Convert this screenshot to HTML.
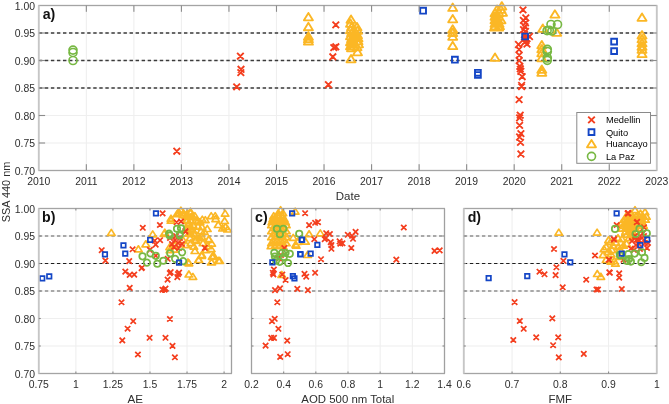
<!DOCTYPE html>
<html><head><meta charset="utf-8"><style>
html,body{margin:0;padding:0;background:#fff;}
body{width:669px;height:404px;overflow:hidden;font-family:"Liberation Sans",sans-serif;}
svg{display:block;filter:blur(0.35px);}
</style></head><body>
<svg width="669" height="404" viewBox="0 0 669 404">
<rect width="669" height="404" fill="#fff"/>
<rect x="85.79" y="5.50" width="1.10" height="165.00" fill="#efefef"/>
<rect x="133.33" y="5.50" width="1.10" height="165.00" fill="#efefef"/>
<rect x="180.87" y="5.50" width="1.10" height="165.00" fill="#efefef"/>
<rect x="228.40" y="5.50" width="1.10" height="165.00" fill="#efefef"/>
<rect x="275.94" y="5.50" width="1.10" height="165.00" fill="#efefef"/>
<rect x="323.48" y="5.50" width="1.10" height="165.00" fill="#efefef"/>
<rect x="371.02" y="5.50" width="1.10" height="165.00" fill="#efefef"/>
<rect x="418.56" y="5.50" width="1.10" height="165.00" fill="#efefef"/>
<rect x="466.10" y="5.50" width="1.10" height="165.00" fill="#efefef"/>
<rect x="513.63" y="5.50" width="1.10" height="165.00" fill="#efefef"/>
<rect x="561.17" y="5.50" width="1.10" height="165.00" fill="#efefef"/>
<rect x="608.71" y="5.50" width="1.10" height="165.00" fill="#efefef"/>
<rect x="38.80" y="142.45" width="618.00" height="1.10" fill="#efefef"/>
<rect x="38.80" y="114.95" width="618.00" height="1.10" fill="#efefef"/>
<rect x="38.80" y="87.45" width="618.00" height="1.10" fill="#efefef"/>
<rect x="38.80" y="59.95" width="618.00" height="1.10" fill="#efefef"/>
<rect x="38.80" y="32.45" width="618.00" height="1.10" fill="#efefef"/>
<rect x="75.31" y="208.50" width="1.10" height="165.00" fill="#efefef"/>
<rect x="112.37" y="208.50" width="1.10" height="165.00" fill="#efefef"/>
<rect x="149.42" y="208.50" width="1.10" height="165.00" fill="#efefef"/>
<rect x="186.48" y="208.50" width="1.10" height="165.00" fill="#efefef"/>
<rect x="223.54" y="208.50" width="1.10" height="165.00" fill="#efefef"/>
<rect x="38.80" y="345.45" width="192.70" height="1.10" fill="#efefef"/>
<rect x="38.80" y="317.95" width="192.70" height="1.10" fill="#efefef"/>
<rect x="38.80" y="290.45" width="192.70" height="1.10" fill="#efefef"/>
<rect x="38.80" y="262.95" width="192.70" height="1.10" fill="#efefef"/>
<rect x="38.80" y="235.45" width="192.70" height="1.10" fill="#efefef"/>
<rect x="283.12" y="208.50" width="1.10" height="165.00" fill="#efefef"/>
<rect x="315.28" y="208.50" width="1.10" height="165.00" fill="#efefef"/>
<rect x="347.45" y="208.50" width="1.10" height="165.00" fill="#efefef"/>
<rect x="379.62" y="208.50" width="1.10" height="165.00" fill="#efefef"/>
<rect x="411.78" y="208.50" width="1.10" height="165.00" fill="#efefef"/>
<rect x="251.50" y="345.45" width="193.00" height="1.10" fill="#efefef"/>
<rect x="251.50" y="317.95" width="193.00" height="1.10" fill="#efefef"/>
<rect x="251.50" y="290.45" width="193.00" height="1.10" fill="#efefef"/>
<rect x="251.50" y="262.95" width="193.00" height="1.10" fill="#efefef"/>
<rect x="251.50" y="235.45" width="193.00" height="1.10" fill="#efefef"/>
<rect x="511.50" y="208.50" width="1.10" height="165.00" fill="#efefef"/>
<rect x="559.75" y="208.50" width="1.10" height="165.00" fill="#efefef"/>
<rect x="608.00" y="208.50" width="1.10" height="165.00" fill="#efefef"/>
<rect x="463.80" y="345.45" width="193.00" height="1.10" fill="#efefef"/>
<rect x="463.80" y="317.95" width="193.00" height="1.10" fill="#efefef"/>
<rect x="463.80" y="290.45" width="193.00" height="1.10" fill="#efefef"/>
<rect x="463.80" y="262.95" width="193.00" height="1.10" fill="#efefef"/>
<rect x="463.80" y="235.45" width="193.00" height="1.10" fill="#efefef"/>
<path d="M38.8 33.00H656.8" stroke="#3a3a3a" stroke-width="1.4" stroke-dasharray="3.4 2.65" fill="none"/>
<path d="M38.8 60.50H656.8" stroke="#3a3a3a" stroke-width="1.4" stroke-dasharray="3.4 2.65" fill="none"/>
<path d="M38.8 88.00H656.8" stroke="#3a3a3a" stroke-width="1.4" stroke-dasharray="3.4 2.65" fill="none"/>

<path d="M38.8 236.00H231.5" stroke="#8e8e8e" stroke-width="1.4" stroke-dasharray="3.4 2.65" fill="none"/>
<path d="M38.8 263.50H231.5" stroke="#1e1e1e" stroke-width="1.2" stroke-dasharray="3.4 2.65" fill="none"/>
<path d="M38.8 291.00H231.5" stroke="#8e8e8e" stroke-width="1.4" stroke-dasharray="3.4 2.65" fill="none"/>

<path d="M251.5 236.00H444.5" stroke="#8e8e8e" stroke-width="1.4" stroke-dasharray="3.4 2.65" fill="none"/>
<path d="M251.5 263.50H444.5" stroke="#1e1e1e" stroke-width="1.2" stroke-dasharray="3.4 2.65" fill="none"/>
<path d="M251.5 291.00H444.5" stroke="#8e8e8e" stroke-width="1.4" stroke-dasharray="3.4 2.65" fill="none"/>

<path d="M463.8 236.00H656.8" stroke="#8e8e8e" stroke-width="1.4" stroke-dasharray="3.4 2.65" fill="none"/>
<path d="M463.8 263.50H656.8" stroke="#1e1e1e" stroke-width="1.2" stroke-dasharray="3.4 2.65" fill="none"/>
<path d="M463.8 291.00H656.8" stroke="#8e8e8e" stroke-width="1.4" stroke-dasharray="3.4 2.65" fill="none"/>

<path d="M308.4 12.9L312.9 20.3L303.9 20.3zM308.4 22.8L312.9 30.2L303.9 30.2zM308.4 32.3L312.9 39.7L303.9 39.7zM308.4 34.8L312.9 42.2L303.9 42.2zM308.4 37.2L312.9 44.6L303.9 44.6zM351.0 15.4L355.5 22.8L346.5 22.8zM350.5 19.4L355.0 26.8L346.0 26.8zM351.5 22.9L356.0 30.3L347.0 30.3zM350.5 25.9L355.0 33.3L346.0 33.3zM351.5 28.9L356.0 36.3L347.0 36.3zM350.5 31.9L355.0 39.3L346.0 39.3zM351.5 34.9L356.0 42.3L347.0 42.3zM350.5 37.9L355.0 45.3L346.0 45.3zM351.5 39.9L356.0 47.3L347.0 47.3zM350.5 41.9L355.0 49.3L346.0 49.3zM351.5 43.9L356.0 51.3L347.0 51.3zM354.0 25.9L358.5 33.3L349.5 33.3zM354.0 29.9L358.5 37.3L349.5 37.3zM354.0 33.9L358.5 41.3L349.5 41.3zM354.0 37.9L358.5 45.3L349.5 45.3zM354.0 41.9L358.5 49.3L349.5 49.3zM357.0 22.9L361.5 30.3L352.5 30.3zM357.5 26.4L362.0 33.8L353.0 33.8zM357.5 30.9L362.0 38.3L353.0 38.3zM358.0 33.9L362.5 41.3L353.5 41.3zM358.0 36.9L362.5 44.3L353.5 44.3zM358.5 39.9L363.0 47.3L354.0 47.3zM357.0 42.9L361.5 50.3L352.5 50.3zM357.5 47.9L362.0 55.3L353.0 55.3zM351.0 54.9L355.5 62.3L346.5 62.3zM452.7 3.5L457.2 10.9L448.2 10.9zM452.7 14.9L457.2 22.3L448.2 22.3zM452.7 25.2L457.2 32.6L448.2 32.6zM452.7 28.6L457.2 36.0L448.2 36.0zM452.7 32.4L457.2 39.8L448.2 39.8zM452.7 41.7L457.2 49.1L448.2 49.1zM495.0 53.4L499.5 60.8L490.5 60.8zM501.8 2.1L506.3 9.5L497.3 9.5zM497.0 5.4L501.5 12.8L492.5 12.8zM501.0 5.4L505.5 12.8L496.5 12.8zM495.0 8.9L499.5 16.3L490.5 16.3zM499.0 8.9L503.5 16.3L494.5 16.3zM502.5 8.4L507.0 15.8L498.0 15.8zM495.0 12.4L499.5 19.8L490.5 19.8zM498.5 12.4L503.0 19.8L494.0 19.8zM495.0 15.9L499.5 23.3L490.5 23.3zM498.0 15.9L502.5 23.3L493.5 23.3zM495.0 19.4L499.5 26.8L490.5 26.8zM499.0 19.4L503.5 26.8L494.5 26.8zM495.0 21.9L499.5 29.3L490.5 29.3zM499.5 21.9L504.0 29.3L495.0 29.3zM501.0 15.9L505.5 23.3L496.5 23.3zM494.5 23.2L499.0 30.6L490.0 30.6zM498.5 23.2L503.0 30.6L494.0 30.6zM554.9 10.2L559.4 17.6L550.4 17.6zM542.8 24.4L547.3 31.8L538.3 31.8zM556.7 28.4L561.2 35.8L552.2 35.8zM541.8 40.9L546.3 48.3L537.3 48.3zM541.8 44.9L546.3 52.3L537.3 52.3zM541.8 48.9L546.3 56.3L537.3 56.3zM541.8 53.9L546.3 61.3L537.3 61.3zM541.8 65.4L546.3 72.8L537.3 72.8zM541.8 68.4L546.3 75.8L537.3 75.8zM642.0 13.4L646.5 20.8L637.5 20.8zM642.0 31.1L646.5 38.5L637.5 38.5zM642.0 34.9L646.5 42.3L637.5 42.3zM642.0 38.9L646.5 46.3L637.5 46.3zM642.0 42.4L646.5 49.8L637.5 49.8zM642.0 45.4L646.5 52.8L637.5 52.8zM642.0 49.7L646.5 57.1L637.5 57.1z" fill="none" stroke="#FBB725" stroke-width="1.85" stroke-linejoin="round"/>
<path d="M173.5 147.9L180.1 154.5M173.5 154.5L180.1 147.9M237.1 52.9L243.7 59.5M237.1 59.5L243.7 52.9M237.7 66.0L244.3 72.6M237.7 72.6L244.3 66.0M237.5 69.3L244.1 75.9M237.5 75.9L244.1 69.3M233.4 83.6L240.0 90.2M233.4 90.2L240.0 83.6M332.5 21.6L339.1 28.2M332.5 28.2L339.1 21.6M330.5 44.3L337.1 50.9M330.5 50.9L337.1 44.3M332.5 43.5L339.1 50.1M332.5 50.1L339.1 43.5M329.5 53.5L336.1 60.1M329.5 60.1L336.1 53.5M325.1 81.4L331.7 88.0M325.1 88.0L331.7 81.4M519.7 6.6L526.3 13.2M519.7 13.2L526.3 6.6M522.5 14.6L529.1 21.2M522.5 21.2L529.1 14.6M520.1 17.1L526.7 23.7M520.1 23.7L526.7 17.1M522.2 19.6L528.8 26.2M522.2 26.2L528.8 19.6M521.6 23.3L528.2 29.9M521.6 29.9L528.2 23.3M520.2 26.4L526.8 33.0M520.2 33.0L526.8 26.4M522.2 28.2L528.8 34.8M522.2 34.8L528.8 28.2M521.2 31.2L527.8 37.8M521.2 37.8L527.8 31.2M522.2 34.2L528.8 40.8M522.2 40.8L528.8 34.2M522.7 37.2L529.3 43.8M522.7 43.8L529.3 37.2M521.2 39.2L527.8 45.8M521.2 45.8L527.8 39.2M523.7 40.7L530.3 47.3M523.7 47.3L530.3 40.7M526.2 33.2L532.8 39.8M526.2 39.8L532.8 33.2M515.2 41.2L521.8 47.8M515.2 47.8L521.8 41.2M515.7 46.2L522.3 52.8M515.7 52.8L522.3 46.2M515.9 51.9L522.5 58.5M515.9 58.5L522.5 51.9M515.9 57.3L522.5 63.9M515.9 63.9L522.5 57.3M516.5 63.0L523.1 69.6M516.5 69.6L523.1 63.0M517.0 65.5L523.6 72.1M517.0 72.1L523.6 65.5M517.5 68.0L524.1 74.6M517.5 74.6L524.1 68.0M518.9 73.4L525.5 80.0M518.9 80.0L525.5 73.4M518.3 82.2L524.9 88.8M518.3 88.8L524.9 82.2M518.3 83.3L524.9 89.9M518.3 89.9L524.9 83.3M515.8 96.3L522.4 102.9M515.8 102.9L522.4 96.3M516.9 111.9L523.5 118.5M516.9 118.5L523.5 111.9M516.3 114.6L522.9 121.2M516.3 121.2L522.9 114.6M516.3 122.1L522.9 128.7M516.3 128.7L522.9 122.1M517.6 130.3L524.2 136.9M517.6 136.9L524.2 130.3M516.3 133.7L522.9 140.3M516.3 140.3L522.9 133.7M517.2 139.1L523.8 145.7M517.2 145.7L523.8 139.1M517.6 150.7L524.2 157.3M517.6 157.3L524.2 150.7" fill="none" stroke="#F43E1E" stroke-width="1.9"/>
<path d="M69.0 50.1a4.0 4.0 0 1 0 8.0 0a4.0 4.0 0 1 0 -8.0 0zM69.0 52.5a4.0 4.0 0 1 0 8.0 0a4.0 4.0 0 1 0 -8.0 0zM69.0 60.5a4.0 4.0 0 1 0 8.0 0a4.0 4.0 0 1 0 -8.0 0zM543.1 30.6a4.0 4.0 0 1 0 8.0 0a4.0 4.0 0 1 0 -8.0 0zM547.0 24.5a4.0 4.0 0 1 0 8.0 0a4.0 4.0 0 1 0 -8.0 0zM553.5 24.5a4.0 4.0 0 1 0 8.0 0a4.0 4.0 0 1 0 -8.0 0zM547.9 31.0a4.0 4.0 0 1 0 8.0 0a4.0 4.0 0 1 0 -8.0 0zM545.3 30.2a4.0 4.0 0 1 0 8.0 0a4.0 4.0 0 1 0 -8.0 0zM543.3 49.3a4.0 4.0 0 1 0 8.0 0a4.0 4.0 0 1 0 -8.0 0zM543.3 51.5a4.0 4.0 0 1 0 8.0 0a4.0 4.0 0 1 0 -8.0 0zM543.3 58.0a4.0 4.0 0 1 0 8.0 0a4.0 4.0 0 1 0 -8.0 0zM543.3 60.3a4.0 4.0 0 1 0 8.0 0a4.0 4.0 0 1 0 -8.0 0z" fill="none" stroke="#77B843" stroke-width="1.65"/>
<path d="M420.2 7.8h5.8v5.8h-5.8zM452.0 56.8h5.8v5.8h-5.8zM475.0 69.9h5.8v5.8h-5.8zM475.0 72.1h5.8v5.8h-5.8zM522.2 33.6h5.8v5.8h-5.8zM611.2 38.7h5.8v5.8h-5.8zM611.2 48.2h5.8v5.8h-5.8z" fill="none" stroke="#1446C6" stroke-width="1.9"/>

<path d="M111.3 229.4L115.1 235.4L107.5 235.4zM138.4 245.8L142.2 251.8L134.6 251.8zM152.7 230.9L156.5 236.9L148.9 236.9zM145.8 240.8L149.6 246.8L142.0 246.8zM164.1 230.4L167.9 236.4L160.3 236.4zM164.8 229.2L168.6 235.2L161.0 235.2zM179.0 209.2L182.8 215.2L175.2 215.2zM183.0 211.7L186.8 217.7L179.2 217.7zM177.0 210.7L180.8 216.7L173.2 216.7zM171.0 215.2L174.8 221.2L167.2 221.2zM171.0 217.2L174.8 223.2L167.2 223.2zM190.4 208.2L194.2 214.2L186.6 214.2zM194.9 212.6L198.7 218.6L191.1 218.6zM190.9 213.6L194.7 219.6L187.1 219.6zM187.0 210.6L190.8 216.6L183.2 216.6zM197.9 218.0L201.7 224.0L194.1 224.0zM202.3 216.1L206.1 222.1L198.5 222.1zM205.3 216.6L209.1 222.6L201.5 222.6zM211.2 212.6L215.0 218.6L207.4 218.6zM215.2 212.6L219.0 218.6L211.4 218.6zM215.7 215.6L219.5 221.6L211.9 221.6zM225.1 210.1L228.9 216.1L221.3 216.1zM224.6 217.5L228.4 223.5L220.8 223.5zM218.2 221.5L222.0 227.5L214.4 227.5zM225.6 223.5L229.4 229.5L221.8 229.5zM222.6 225.0L226.4 231.0L218.8 231.0zM227.6 226.0L231.4 232.0L223.8 232.0zM207.3 225.5L211.1 231.5L203.5 231.5zM204.3 228.4L208.1 234.4L200.5 234.4zM192.9 226.9L196.7 232.9L189.1 232.9zM190.0 225.0L193.8 231.0L186.2 231.0zM191.0 230.4L194.8 236.4L187.2 236.4zM199.9 234.4L203.7 240.4L196.1 240.4zM208.8 236.4L212.6 242.4L205.0 242.4zM195.9 237.3L199.7 243.3L192.1 243.3zM187.0 217.5L190.8 223.5L183.2 223.5zM189.0 219.5L192.8 225.5L185.2 225.5zM194.9 236.7L198.7 242.7L191.1 242.7zM199.9 234.7L203.7 240.7L196.1 240.7zM208.8 235.7L212.6 241.7L205.0 241.7zM211.7 240.1L215.5 246.1L207.9 246.1zM193.9 243.1L197.7 249.1L190.1 249.1zM194.9 247.5L198.7 253.5L191.1 253.5zM201.8 251.5L205.6 257.5L198.0 257.5zM198.9 256.5L202.7 262.5L195.1 262.5zM211.2 245.6L215.0 251.6L207.4 251.6zM213.7 252.5L217.5 258.5L209.9 258.5zM211.7 258.9L215.5 264.9L207.9 264.9zM219.7 257.4L223.5 263.4L215.9 263.4zM188.0 258.9L191.8 264.9L184.2 264.9zM191.0 239.6L194.8 245.6L187.2 245.6zM207.8 242.6L211.6 248.6L204.0 248.6zM169.7 243.6L173.5 249.6L165.9 249.6zM175.0 241.7L178.8 247.7L171.2 247.7zM183.0 236.7L186.8 242.7L179.2 242.7zM186.0 241.7L189.8 247.7L182.2 247.7zM174.5 246.2L178.3 252.2L170.7 252.2zM170.0 246.7L173.8 252.7L166.2 252.7zM188.9 259.8L192.7 265.8L185.1 265.8zM188.9 271.0L192.7 277.0L185.1 277.0zM192.9 273.4L196.7 279.4L189.1 279.4zM198.5 256.5L202.3 262.5L194.7 262.5zM201.7 252.5L205.5 258.5L197.9 258.5zM212.2 253.3L216.0 259.3L208.4 259.3zM211.4 258.9L215.2 264.9L207.6 264.9zM218.6 257.3L222.4 263.3L214.8 263.3zM203.0 239.7L206.8 245.7L199.2 245.7zM206.0 246.7L209.8 252.7L202.2 252.7zM180.9 207.2L184.7 213.2L177.1 213.2zM178.0 209.7L181.8 215.7L174.2 215.7zM183.5 209.7L187.3 215.7L179.7 215.7zM186.0 212.7L189.8 218.7L182.2 218.7zM190.5 209.7L194.3 215.7L186.7 215.7zM188.0 213.2L191.8 219.2L184.2 219.2zM193.0 213.7L196.8 219.7L189.2 219.7zM186.5 216.7L190.3 222.7L182.7 222.7zM191.0 217.7L194.8 223.7L187.2 223.7zM196.0 217.2L199.8 223.2L192.2 223.2zM200.0 218.7L203.8 224.7L196.2 224.7zM188.0 221.2L191.8 227.2L184.2 227.2zM193.0 221.7L196.8 227.7L189.2 227.7zM198.0 223.2L201.8 229.2L194.2 229.2zM202.0 223.7L205.8 229.7L198.2 229.7zM187.0 225.7L190.8 231.7L183.2 231.7zM191.5 226.2L195.3 232.2L187.7 232.2zM201.0 227.7L204.8 233.7L197.2 233.7zM189.0 230.2L192.8 236.2L185.2 236.2zM194.0 230.7L197.8 236.7L190.2 236.7zM198.0 232.7L201.8 238.7L194.2 238.7zM202.0 233.7L205.8 239.7L198.2 239.7zM190.0 234.7L193.8 240.7L186.2 240.7z" fill="none" stroke="#FBB725" stroke-width="1.7" stroke-linejoin="round"/>
<path d="M99.0 247.5L104.4 252.9M99.0 252.9L104.4 247.5M102.7 257.9L108.1 263.3M102.7 263.3L108.1 257.9M129.9 246.6L135.3 252.0M129.9 252.0L135.3 246.6M126.5 258.4L131.9 263.8M126.5 263.8L131.9 258.4M159.9 210.7L165.3 216.1M159.9 216.1L165.3 210.7M140.1 225.1L145.5 230.5M140.1 230.5L145.5 225.1M157.2 222.3L162.6 227.7M157.2 227.7L162.6 222.3M152.0 238.0L157.4 243.4M152.0 243.4L157.4 238.0M157.4 237.5L162.8 242.9M157.4 242.9L162.8 237.5M153.0 241.9L158.4 247.3M153.0 247.3L158.4 241.9M173.9 219.6L179.3 225.0M173.9 225.0L179.3 219.6M178.3 218.8L183.7 224.2M178.3 224.2L183.7 218.8M182.6 228.3L188.0 233.7M182.6 233.7L188.0 228.3M147.2 247.2L152.6 252.6M147.2 252.6L152.6 247.2M153.1 253.1L158.5 258.5M153.1 258.5L158.5 253.1M165.0 256.1L170.4 261.5M165.0 261.5L170.4 256.1M139.3 265.0L144.7 270.4M139.3 270.4L144.7 265.0M168.0 269.4L173.4 274.8M168.0 274.8L173.4 269.4M176.4 269.9L181.8 275.3M176.4 275.3L181.8 269.9M167.3 235.3L172.7 240.7M167.3 240.7L172.7 235.3M172.3 237.3L177.7 242.7M172.3 242.7L177.7 237.3M175.3 240.3L180.7 245.7M175.3 245.7L180.7 240.3M169.3 241.3L174.7 246.7M169.3 246.7L174.7 241.3M177.3 235.3L182.7 240.7M177.3 240.7L182.7 235.3M173.3 233.3L178.7 238.7M173.3 238.7L178.7 233.3M171.3 244.3L176.7 249.7M171.3 249.7L176.7 244.3M176.3 245.3L181.7 250.7M176.3 250.7L181.7 245.3M179.3 241.3L184.7 246.7M179.3 246.7L184.7 241.3M202.1 245.2L207.5 250.6M202.1 250.6L207.5 245.2M182.8 229.0L188.2 234.4M182.8 234.4L188.2 229.0M122.6 268.9L128.0 274.3M122.6 274.3L128.0 268.9M127.0 272.2L132.4 277.6M127.0 277.6L132.4 272.2M131.5 271.9L136.9 277.3M131.5 277.3L136.9 271.9M138.9 265.5L144.3 270.9M138.9 270.9L144.3 265.5M127.0 285.2L132.4 290.6M127.0 290.6L132.4 285.2M118.8 299.6L124.2 305.0M118.8 305.0L124.2 299.6M167.1 270.4L172.5 275.8M167.1 275.8L172.5 270.4M164.9 276.9L170.3 282.3M164.9 282.3L170.3 276.9M175.3 271.4L180.7 276.8M175.3 276.8L180.7 271.4M174.6 274.4L180.0 279.8M174.6 279.8L180.0 274.4M159.7 287.0L165.1 292.4M159.7 292.4L165.1 287.0M161.9 287.0L167.3 292.4M161.9 292.4L167.3 287.0M162.8 285.8L168.2 291.2M162.8 291.2L168.2 285.8M130.5 318.5L135.9 323.9M130.5 323.9L135.9 318.5M124.9 326.0L130.3 331.4M124.9 331.4L130.3 326.0M119.6 337.7L125.0 343.1M119.6 343.1L125.0 337.7M135.2 351.8L140.6 357.2M135.2 357.2L140.6 351.8M146.9 335.1L152.3 340.5M146.9 340.5L152.3 335.1M167.2 316.3L172.6 321.7M167.2 321.7L172.6 316.3M162.8 335.1L168.2 340.5M162.8 340.5L168.2 335.1M169.8 343.2L175.2 348.6M169.8 348.6L175.2 343.2M172.2 354.6L177.6 360.0M172.2 360.0L177.6 354.6" fill="none" stroke="#F43E1E" stroke-width="1.75"/>
<path d="M173.8 228.7a3.2 3.2 0 1 0 6.4 0a3.2 3.2 0 1 0 -6.4 0zM177.8 228.2a3.2 3.2 0 1 0 6.4 0a3.2 3.2 0 1 0 -6.4 0zM165.9 233.7a3.2 3.2 0 1 0 6.4 0a3.2 3.2 0 1 0 -6.4 0zM176.6 234.5a3.2 3.2 0 1 0 6.4 0a3.2 3.2 0 1 0 -6.4 0zM139.3 256.3a3.2 3.2 0 1 0 6.4 0a3.2 3.2 0 1 0 -6.4 0zM147.2 253.3a3.2 3.2 0 1 0 6.4 0a3.2 3.2 0 1 0 -6.4 0zM152.6 255.8a3.2 3.2 0 1 0 6.4 0a3.2 3.2 0 1 0 -6.4 0zM143.7 262.7a3.2 3.2 0 1 0 6.4 0a3.2 3.2 0 1 0 -6.4 0zM154.1 263.7a3.2 3.2 0 1 0 6.4 0a3.2 3.2 0 1 0 -6.4 0zM160.1 260.7a3.2 3.2 0 1 0 6.4 0a3.2 3.2 0 1 0 -6.4 0zM167.0 253.3a3.2 3.2 0 1 0 6.4 0a3.2 3.2 0 1 0 -6.4 0zM171.9 258.8a3.2 3.2 0 1 0 6.4 0a3.2 3.2 0 1 0 -6.4 0zM178.9 252.3a3.2 3.2 0 1 0 6.4 0a3.2 3.2 0 1 0 -6.4 0zM179.9 261.2a3.2 3.2 0 1 0 6.4 0a3.2 3.2 0 1 0 -6.4 0zM166.5 235.5a3.2 3.2 0 1 0 6.4 0a3.2 3.2 0 1 0 -6.4 0zM176.4 235.5a3.2 3.2 0 1 0 6.4 0a3.2 3.2 0 1 0 -6.4 0z" fill="none" stroke="#77B843" stroke-width="1.75"/>
<path d="M40.0 276.1h4.5v4.5h-4.5zM47.0 274.1h4.5v4.5h-4.5zM102.7 252.2h4.5v4.5h-4.5zM121.2 243.1h4.5v4.5h-4.5zM123.0 251.4h4.5v4.5h-4.5zM153.7 211.2h4.5v4.5h-4.5zM147.9 237.7h4.5v4.5h-4.5zM176.8 260.4h4.5v4.5h-4.5z" fill="none" stroke="#1446C6" stroke-width="1.7"/>

<path d="M295.2 208.1L299.0 214.1L291.4 214.1zM305.5 238.2L309.3 244.2L301.7 244.2zM293.2 234.4L297.0 240.4L289.4 240.4zM297.7 238.3L301.5 244.3L293.9 244.3zM296.2 242.1L300.0 248.1L292.4 248.1zM309.1 230.7L312.9 236.7L305.3 236.7zM320.3 229.9L324.1 235.9L316.5 235.9zM307.6 251.5L311.4 257.5L303.8 257.5zM295.7 241.1L299.5 247.1L291.9 247.1zM281.8 271.4L285.6 277.4L278.0 277.4zM280.6 206.7L284.4 212.7L276.8 212.7zM278.3 209.7L282.1 215.7L274.5 215.7zM282.9 209.7L286.7 215.7L279.1 215.7zM273.7 212.7L277.5 218.7L269.9 218.7zM278.1 212.7L281.9 218.7L274.3 218.7zM282.5 212.7L286.3 218.7L278.7 218.7zM272.8 215.7L276.6 221.7L269.0 221.7zM276.6 215.7L280.4 221.7L272.8 221.7zM280.4 215.7L284.2 221.7L276.6 221.7zM284.2 215.7L288.0 221.7L280.4 221.7zM271.9 218.7L275.7 224.7L268.1 224.7zM275.5 218.7L279.3 224.7L271.7 224.7zM279.2 218.7L283.0 224.7L275.4 224.7zM282.8 218.7L286.6 224.7L279.0 224.7zM285.5 218.7L289.3 224.7L281.7 224.7zM271.5 221.7L275.3 227.7L267.7 227.7zM275.2 221.7L279.0 227.7L271.4 227.7zM278.9 221.7L282.7 227.7L275.1 227.7zM282.6 221.7L286.4 227.7L278.8 227.7zM286.3 221.7L290.1 227.7L282.5 227.7zM273.3 224.7L277.1 230.7L269.5 230.7zM277.0 224.7L280.8 230.7L273.2 230.7zM280.7 224.7L284.5 230.7L276.9 230.7zM284.4 224.7L288.2 230.7L280.6 230.7zM271.5 227.7L275.3 233.7L267.7 233.7zM275.2 227.7L279.0 233.7L271.4 233.7zM278.9 227.7L282.7 233.7L275.1 233.7zM282.6 227.7L286.4 233.7L278.8 233.7zM286.3 227.7L290.1 233.7L282.5 233.7zM273.3 230.7L277.1 236.7L269.5 236.7zM277.0 230.7L280.8 236.7L273.2 236.7zM280.7 230.7L284.5 236.7L276.9 236.7zM284.4 230.7L288.2 236.7L280.6 236.7zM271.5 233.7L275.3 239.7L267.7 239.7zM275.2 233.7L279.0 239.7L271.4 239.7zM278.9 233.7L282.7 239.7L275.1 239.7zM282.6 233.7L286.4 239.7L278.8 239.7zM286.3 233.7L290.1 239.7L282.5 239.7zM273.3 236.7L277.1 242.7L269.5 242.7zM277.0 236.7L280.8 242.7L273.2 242.7zM280.7 236.7L284.5 242.7L276.9 242.7zM284.4 236.7L288.2 242.7L280.6 242.7zM271.5 239.7L275.3 245.7L267.7 245.7zM275.2 239.7L279.0 245.7L271.4 245.7zM278.9 239.7L282.7 245.7L275.1 245.7zM282.6 239.7L286.4 245.7L278.8 245.7zM286.3 239.7L290.1 245.7L282.5 245.7zM271.0 242.7L274.8 248.7L267.2 248.7zM275.0 242.7L278.8 248.7L271.2 248.7zM279.0 242.7L282.8 248.7L275.2 248.7zM283.0 242.7L286.8 248.7L279.2 248.7z" fill="none" stroke="#FBB725" stroke-width="1.7" stroke-linejoin="round"/>
<path d="M302.4 210.5L307.8 215.9M302.4 215.9L307.8 210.5M306.4 222.4L311.8 227.8M306.4 227.8L311.8 222.4M312.4 220.1L317.8 225.5M312.4 225.5L317.8 220.1M315.3 219.4L320.7 224.8M315.3 224.8L320.7 219.4M311.6 236.5L317.0 241.9M311.6 241.9L317.0 236.5M318.3 256.5L323.7 261.9M318.3 261.9L323.7 256.5M323.5 230.5L328.9 235.9M323.5 235.9L328.9 230.5M327.2 231.3L332.6 236.7M327.2 236.7L332.6 231.3M323.3 235.3L328.7 240.7M323.3 240.7L328.7 235.3M322.0 236.5L327.4 241.9M322.0 241.9L327.4 236.5M328.0 239.4L333.4 244.8M328.0 244.8L333.4 239.4M328.7 242.4L334.1 247.8M328.7 247.8L334.1 242.4M328.7 246.1L334.1 251.5M328.7 251.5L334.1 246.1M336.9 238.7L342.3 244.1M336.9 244.1L342.3 238.7M339.8 240.6L345.2 246.0M339.8 246.0L345.2 240.6M337.6 240.9L343.0 246.3M337.6 246.3L343.0 240.9M345.1 232.1L350.5 237.5M345.1 237.5L350.5 232.1M352.9 229.2L358.3 234.6M352.9 234.6L358.3 229.2M349.4 233.1L354.8 238.5M349.4 238.5L354.8 233.1M350.3 236.1L355.7 241.5M350.3 241.5L355.7 236.1M348.6 245.3L354.0 250.7M348.6 250.7L354.0 245.3M401.1 224.8L406.5 230.2M401.1 230.2L406.5 224.8M393.6 256.9L399.0 262.3M393.6 262.3L399.0 256.9M431.8 248.2L437.2 253.6M431.8 253.6L437.2 248.2M437.0 247.7L442.4 253.1M437.0 253.1L442.4 247.7M281.6 245.3L287.0 250.7M281.6 250.7L287.0 245.3M278.3 252.3L283.7 257.7M278.3 257.7L283.7 252.3M276.3 255.8L281.7 261.2M276.3 261.2L281.7 255.8M271.2 266.8L276.6 272.2M271.2 272.2L276.6 266.8M270.1 270.1L275.5 275.5M270.1 275.5L275.5 270.1M270.7 271.8L276.1 277.2M270.7 277.2L276.1 271.8M279.6 271.8L285.0 277.2M279.6 277.2L285.0 271.8M282.9 277.3L288.3 282.7M282.9 282.7L288.3 277.3M301.8 271.2L307.2 276.6M301.8 276.6L307.2 271.2M303.5 274.0L308.9 279.4M303.5 279.4L308.9 274.0M312.4 270.1L317.8 275.5M312.4 275.5L317.8 270.1M272.3 287.4L277.7 292.8M272.3 292.8L277.7 287.4M277.3 285.7L282.7 291.1M277.3 291.1L282.7 285.7M294.6 286.2L300.0 291.6M294.6 291.6L300.0 286.2M305.2 287.4L310.6 292.8M305.2 292.8L310.6 287.4M274.6 299.6L280.0 305.0M274.6 305.0L280.0 299.6M272.0 316.1L277.4 321.5M272.0 321.5L277.4 316.1M269.3 318.5L274.7 323.9M269.3 323.9L274.7 318.5M275.7 326.1L281.1 331.5M275.7 331.5L281.1 326.1M268.6 335.2L274.0 340.6M268.6 340.6L274.0 335.2M271.3 335.2L276.7 340.6M271.3 340.6L276.7 335.2M284.5 337.9L289.9 343.3M284.5 343.3L289.9 337.9M262.9 342.9L268.3 348.3M262.9 348.3L268.3 342.9M285.0 351.5L290.4 356.9M285.0 356.9L290.4 351.5M277.5 354.2L282.9 359.6M277.5 359.6L282.9 354.2" fill="none" stroke="#F43E1E" stroke-width="1.75"/>
<path d="M273.7 228.8a3.2 3.2 0 1 0 6.4 0a3.2 3.2 0 1 0 -6.4 0zM280.1 228.8a3.2 3.2 0 1 0 6.4 0a3.2 3.2 0 1 0 -6.4 0zM276.7 234.2a3.2 3.2 0 1 0 6.4 0a3.2 3.2 0 1 0 -6.4 0zM296.0 233.7a3.2 3.2 0 1 0 6.4 0a3.2 3.2 0 1 0 -6.4 0zM271.1 252.9a3.2 3.2 0 1 0 6.4 0a3.2 3.2 0 1 0 -6.4 0zM278.8 252.9a3.2 3.2 0 1 0 6.4 0a3.2 3.2 0 1 0 -6.4 0zM282.4 252.9a3.2 3.2 0 1 0 6.4 0a3.2 3.2 0 1 0 -6.4 0zM286.6 253.8a3.2 3.2 0 1 0 6.4 0a3.2 3.2 0 1 0 -6.4 0zM271.7 256.5a3.2 3.2 0 1 0 6.4 0a3.2 3.2 0 1 0 -6.4 0zM280.6 257.0a3.2 3.2 0 1 0 6.4 0a3.2 3.2 0 1 0 -6.4 0zM272.9 260.6a3.2 3.2 0 1 0 6.4 0a3.2 3.2 0 1 0 -6.4 0zM276.5 261.8a3.2 3.2 0 1 0 6.4 0a3.2 3.2 0 1 0 -6.4 0zM284.8 263.0a3.2 3.2 0 1 0 6.4 0a3.2 3.2 0 1 0 -6.4 0z" fill="none" stroke="#77B843" stroke-width="1.75"/>
<path d="M289.9 211.2h4.5v4.5h-4.5zM299.9 237.4h4.5v4.5h-4.5zM299.4 237.7h4.5v4.5h-4.5zM315.1 242.6h4.5v4.5h-4.5zM297.9 251.8h4.5v4.5h-4.5zM308.4 251.4h4.5v4.5h-4.5zM298.4 252.2h4.5v4.5h-4.5zM270.1 260.1h4.5v4.5h-4.5zM290.6 273.9h4.5v4.5h-4.5zM292.2 276.1h4.5v4.5h-4.5z" fill="none" stroke="#1446C6" stroke-width="1.7"/>

<path d="M558.8 229.1L562.6 235.1L555.0 235.1zM597.1 229.1L600.9 235.1L593.3 235.1zM597.3 270.5L601.1 276.5L593.5 276.5zM600.8 273.3L604.6 279.3L597.0 279.3zM635.0 206.7L638.8 212.7L631.2 212.7zM645.0 208.7L648.8 214.7L641.2 214.7zM640.5 210.2L644.3 216.2L636.7 216.2zM631.0 210.2L634.8 216.2L627.2 216.2zM608.6 236.7L612.4 242.7L604.8 242.7zM606.1 243.5L609.9 249.5L602.3 249.5zM613.0 242.2L616.8 248.2L609.2 248.2zM618.5 243.5L622.3 249.5L614.7 249.5zM626.6 240.4L630.4 246.4L622.8 246.4zM623.5 242.2L627.3 248.2L619.7 248.2zM611.1 250.9L614.9 256.9L607.3 256.9zM606.1 256.5L609.9 262.5L602.3 262.5zM614.2 257.7L618.0 263.7L610.4 263.7zM615.4 260.2L619.2 266.2L611.6 266.2zM619.8 253.4L623.6 259.4L616.0 259.4zM612.0 246.7L615.8 252.7L608.2 252.7zM608.0 248.7L611.8 254.7L604.2 254.7zM603.0 251.7L606.8 257.7L599.2 257.7zM611.0 258.2L614.8 264.2L607.2 264.2zM610.5 238.7L614.3 244.7L606.7 244.7zM616.0 239.2L619.8 245.2L612.2 245.2zM620.0 245.7L623.8 251.7L616.2 251.7zM604.0 245.7L607.8 251.7L600.2 251.7zM618.0 234.7L621.8 240.7L614.2 240.7zM622.0 235.7L625.8 241.7L618.2 241.7zM629.0 234.7L632.8 240.7L625.2 240.7zM633.0 232.7L636.8 238.7L629.2 238.7zM626.0 213.2L629.8 219.2L622.2 219.2zM629.4 213.2L633.2 219.2L625.6 219.2zM632.8 213.2L636.6 219.2L629.0 219.2zM636.2 213.2L640.0 219.2L632.4 219.2zM639.6 213.2L643.4 219.2L635.8 219.2zM643.0 213.2L646.8 219.2L639.2 219.2zM646.4 213.2L650.2 219.2L642.6 219.2zM625.1 216.2L628.9 222.2L621.3 222.2zM628.5 216.2L632.3 222.2L624.7 222.2zM631.9 216.2L635.7 222.2L628.1 222.2zM635.3 216.2L639.1 222.2L631.5 222.2zM638.7 216.2L642.5 222.2L634.9 222.2zM642.1 216.2L645.9 222.2L638.3 222.2zM645.5 216.2L649.3 222.2L641.7 222.2zM622.0 219.2L625.8 225.2L618.2 225.2zM625.4 219.2L629.2 225.2L621.6 225.2zM628.8 219.2L632.6 225.2L625.0 225.2zM632.2 219.2L636.0 225.2L628.4 225.2zM635.6 219.2L639.4 225.2L631.8 225.2zM639.0 219.2L642.8 225.2L635.2 225.2zM642.4 219.2L646.2 225.2L638.6 225.2zM623.1 222.2L626.9 228.2L619.3 228.2zM626.5 222.2L630.3 228.2L622.7 228.2zM629.9 222.2L633.7 228.2L626.1 228.2zM633.3 222.2L637.1 228.2L629.5 228.2zM636.7 222.2L640.5 228.2L632.9 228.2zM640.1 222.2L643.9 228.2L636.3 228.2zM643.5 222.2L647.3 228.2L639.7 228.2zM622.0 225.2L625.8 231.2L618.2 231.2zM625.4 225.2L629.2 231.2L621.6 231.2zM628.8 225.2L632.6 231.2L625.0 231.2zM632.2 225.2L636.0 231.2L628.4 231.2zM635.6 225.2L639.4 231.2L631.8 231.2zM639.0 225.2L642.8 231.2L635.2 231.2zM625.6 228.2L629.4 234.2L621.8 234.2zM629.0 228.2L632.8 234.2L625.2 234.2zM632.4 228.2L636.2 234.2L628.6 234.2zM635.8 228.2L639.6 234.2L632.0 234.2zM627.0 231.2L630.8 237.2L623.2 237.2zM630.4 231.2L634.2 237.2L626.6 237.2z" fill="none" stroke="#FBB725" stroke-width="1.7" stroke-linejoin="round"/>
<path d="M536.8 269.0L542.2 274.4M536.8 274.4L542.2 269.0M541.8 271.6L547.2 277.0M541.8 277.0L547.2 271.6M553.7 264.6L559.1 270.0M553.7 270.0L559.1 264.6M552.9 272.4L558.3 277.8M552.9 277.8L558.3 272.4M560.0 284.6L565.4 290.0M560.0 290.0L565.4 284.6M511.9 299.4L517.3 304.8M511.9 304.8L517.3 299.4M517.1 318.3L522.5 323.7M517.1 323.7L522.5 318.3M521.0 326.1L526.4 331.5M521.0 331.5L526.4 326.1M510.6 337.3L516.0 342.7M510.6 342.7L516.0 337.3M533.5 334.7L538.9 340.1M533.5 340.1L538.9 334.7M549.6 315.7L555.0 321.1M549.6 321.1L555.0 315.7M555.5 334.7L560.9 340.1M555.5 340.1L560.9 334.7M550.4 342.5L555.8 347.9M550.4 347.9L555.8 342.5M556.1 354.7L561.5 360.1M556.1 360.1L561.5 354.7M551.3 246.3L556.7 251.7M551.3 251.7L556.7 246.3M560.7 258.1L566.1 263.5M560.7 263.5L566.1 258.1M592.3 252.8L597.7 258.2M592.3 258.2L597.7 252.8M583.5 277.0L588.9 282.4M583.5 282.4L588.9 277.0M593.8 286.8L599.2 292.2M593.8 292.2L599.2 286.8M595.3 286.8L600.7 292.2M595.3 292.2L600.7 286.8M619.1 286.3L624.5 291.7M619.1 291.7L624.5 286.3M581.1 351.2L586.5 356.6M581.1 356.6L586.5 351.2M606.6 269.7L612.0 275.1M606.6 275.1L612.0 269.7M616.5 270.7L621.9 276.1M616.5 276.1L621.9 270.7M616.5 274.9L621.9 280.3M616.5 280.3L621.9 274.9M624.9 210.7L630.3 216.1M624.9 216.1L630.3 210.7M606.0 257.0L611.4 262.4M606.0 262.4L611.4 257.0M634.4 219.1L639.8 224.5M634.4 224.5L639.8 219.1M611.3 237.0L616.7 242.4M611.3 242.4L616.7 237.0M625.7 210.7L631.1 216.1M625.7 216.1L631.1 210.7M634.0 219.6L639.4 225.0M634.0 225.0L639.4 219.6M614.0 222.3L619.4 227.7M614.0 227.7L619.4 222.3M641.3 224.6L646.7 230.0M641.3 230.0L646.7 224.6M611.2 236.3L616.6 241.7M611.2 241.7L616.6 236.3M606.5 257.1L611.9 262.5M606.5 262.5L611.9 257.1M607.2 270.0L612.6 275.4M607.2 275.4L612.6 270.0M620.8 257.1L626.2 262.5M620.8 262.5L626.2 257.1M628.2 245.9L633.6 251.3M628.2 251.3L633.6 245.9M632.3 233.3L637.7 238.7M632.3 238.7L637.7 233.3M635.3 237.3L640.7 242.7M635.3 242.7L640.7 237.3M639.3 235.3L644.7 240.7M639.3 240.7L644.7 235.3M642.3 240.3L647.7 245.7M642.3 245.7L647.7 240.3M633.3 242.3L638.7 247.7M633.3 247.7L638.7 242.3M637.3 246.3L642.7 251.7M637.3 251.7L642.7 246.3M631.3 247.3L636.7 252.7M631.3 252.7L636.7 247.3M644.3 245.3L649.7 250.7M644.3 250.7L649.7 245.3M641.3 233.3L646.7 238.7M641.3 238.7L646.7 233.3M633.9 237.1L639.3 242.5M633.9 242.5L639.3 237.1M629.3 238.3L634.7 243.7M629.3 243.7L634.7 238.3M636.3 241.3L641.7 246.7M636.3 246.7L641.7 241.3M645.3 240.3L650.7 245.7M645.3 245.7L650.7 240.3M640.3 230.3L645.7 235.7M640.3 235.7L645.7 230.3" fill="none" stroke="#F43E1E" stroke-width="1.75"/>
<path d="M611.8 228.9a3.2 3.2 0 1 0 6.4 0a3.2 3.2 0 1 0 -6.4 0zM636.3 228.9a3.2 3.2 0 1 0 6.4 0a3.2 3.2 0 1 0 -6.4 0zM632.4 234.0a3.2 3.2 0 1 0 6.4 0a3.2 3.2 0 1 0 -6.4 0zM643.6 233.4a3.2 3.2 0 1 0 6.4 0a3.2 3.2 0 1 0 -6.4 0zM616.6 254.8a3.2 3.2 0 1 0 6.4 0a3.2 3.2 0 1 0 -6.4 0zM625.2 254.2a3.2 3.2 0 1 0 6.4 0a3.2 3.2 0 1 0 -6.4 0zM631.4 253.6a3.2 3.2 0 1 0 6.4 0a3.2 3.2 0 1 0 -6.4 0zM638.8 252.3a3.2 3.2 0 1 0 6.4 0a3.2 3.2 0 1 0 -6.4 0zM641.3 257.9a3.2 3.2 0 1 0 6.4 0a3.2 3.2 0 1 0 -6.4 0zM627.7 261.6a3.2 3.2 0 1 0 6.4 0a3.2 3.2 0 1 0 -6.4 0zM638.2 262.2a3.2 3.2 0 1 0 6.4 0a3.2 3.2 0 1 0 -6.4 0zM625.8 259.1a3.2 3.2 0 1 0 6.4 0a3.2 3.2 0 1 0 -6.4 0zM617.1 255.5a3.2 3.2 0 1 0 6.4 0a3.2 3.2 0 1 0 -6.4 0zM623.4 260.8a3.2 3.2 0 1 0 6.4 0a3.2 3.2 0 1 0 -6.4 0z" fill="none" stroke="#77B843" stroke-width="1.75"/>
<path d="M486.4 275.9h4.5v4.5h-4.5zM525.0 273.8h4.5v4.5h-4.5zM562.2 252.2h4.5v4.5h-4.5zM568.0 260.1h4.5v4.5h-4.5zM614.4 211.2h4.5v4.5h-4.5zM619.5 251.4h4.5v4.5h-4.5zM638.0 242.8h4.5v4.5h-4.5zM645.0 237.4h4.5v4.5h-4.5z" fill="none" stroke="#1446C6" stroke-width="1.7"/>

<rect x="38.30" y="4.85" width="619.00" height="1.30" fill="#a4a4a4"/>
<rect x="38.30" y="169.85" width="619.00" height="1.30" fill="#a4a4a4"/>
<rect x="37.85" y="5.50" width="1.90" height="165.00" fill="#c6c6c6"/>
<rect x="655.85" y="5.50" width="1.90" height="165.00" fill="#c6c6c6"/>
<rect x="85.79" y="164.20" width="1.10" height="6.30" fill="#8c8c8c"/>
<rect x="85.79" y="5.50" width="1.10" height="6.30" fill="#8c8c8c"/>
<rect x="133.33" y="164.20" width="1.10" height="6.30" fill="#8c8c8c"/>
<rect x="133.33" y="5.50" width="1.10" height="6.30" fill="#8c8c8c"/>
<rect x="180.87" y="164.20" width="1.10" height="6.30" fill="#8c8c8c"/>
<rect x="180.87" y="5.50" width="1.10" height="6.30" fill="#8c8c8c"/>
<rect x="228.40" y="164.20" width="1.10" height="6.30" fill="#8c8c8c"/>
<rect x="228.40" y="5.50" width="1.10" height="6.30" fill="#8c8c8c"/>
<rect x="275.94" y="164.20" width="1.10" height="6.30" fill="#8c8c8c"/>
<rect x="275.94" y="5.50" width="1.10" height="6.30" fill="#8c8c8c"/>
<rect x="323.48" y="164.20" width="1.10" height="6.30" fill="#8c8c8c"/>
<rect x="323.48" y="5.50" width="1.10" height="6.30" fill="#8c8c8c"/>
<rect x="371.02" y="164.20" width="1.10" height="6.30" fill="#8c8c8c"/>
<rect x="371.02" y="5.50" width="1.10" height="6.30" fill="#8c8c8c"/>
<rect x="418.56" y="164.20" width="1.10" height="6.30" fill="#8c8c8c"/>
<rect x="418.56" y="5.50" width="1.10" height="6.30" fill="#8c8c8c"/>
<rect x="466.10" y="164.20" width="1.10" height="6.30" fill="#8c8c8c"/>
<rect x="466.10" y="5.50" width="1.10" height="6.30" fill="#8c8c8c"/>
<rect x="513.63" y="164.20" width="1.10" height="6.30" fill="#8c8c8c"/>
<rect x="513.63" y="5.50" width="1.10" height="6.30" fill="#8c8c8c"/>
<rect x="561.17" y="164.20" width="1.10" height="6.30" fill="#8c8c8c"/>
<rect x="561.17" y="5.50" width="1.10" height="6.30" fill="#8c8c8c"/>
<rect x="608.71" y="164.20" width="1.10" height="6.30" fill="#8c8c8c"/>
<rect x="608.71" y="5.50" width="1.10" height="6.30" fill="#8c8c8c"/>
<rect x="38.80" y="142.45" width="6.30" height="1.10" fill="#8c8c8c"/>
<rect x="650.50" y="142.45" width="6.30" height="1.10" fill="#8c8c8c"/>
<rect x="38.80" y="114.95" width="6.30" height="1.10" fill="#8c8c8c"/>
<rect x="650.50" y="114.95" width="6.30" height="1.10" fill="#8c8c8c"/>
<rect x="38.80" y="87.45" width="6.30" height="1.10" fill="#8c8c8c"/>
<rect x="650.50" y="87.45" width="6.30" height="1.10" fill="#8c8c8c"/>
<rect x="38.80" y="59.95" width="6.30" height="1.10" fill="#8c8c8c"/>
<rect x="650.50" y="59.95" width="6.30" height="1.10" fill="#8c8c8c"/>
<rect x="38.80" y="32.45" width="6.30" height="1.10" fill="#8c8c8c"/>
<rect x="650.50" y="32.45" width="6.30" height="1.10" fill="#8c8c8c"/>
<rect x="38.30" y="207.85" width="193.70" height="1.30" fill="#a4a4a4"/>
<rect x="38.30" y="372.85" width="193.70" height="1.30" fill="#a4a4a4"/>
<rect x="37.85" y="208.50" width="1.90" height="165.00" fill="#c6c6c6"/>
<rect x="230.85" y="208.50" width="1.30" height="165.00" fill="#a0a0a0"/>
<rect x="75.31" y="371.50" width="1.10" height="2.00" fill="#8c8c8c"/>
<rect x="75.31" y="208.50" width="1.10" height="2.00" fill="#8c8c8c"/>
<rect x="112.37" y="371.50" width="1.10" height="2.00" fill="#8c8c8c"/>
<rect x="112.37" y="208.50" width="1.10" height="2.00" fill="#8c8c8c"/>
<rect x="149.42" y="371.50" width="1.10" height="2.00" fill="#8c8c8c"/>
<rect x="149.42" y="208.50" width="1.10" height="2.00" fill="#8c8c8c"/>
<rect x="186.48" y="371.50" width="1.10" height="2.00" fill="#8c8c8c"/>
<rect x="186.48" y="208.50" width="1.10" height="2.00" fill="#8c8c8c"/>
<rect x="223.54" y="371.50" width="1.10" height="2.00" fill="#8c8c8c"/>
<rect x="223.54" y="208.50" width="1.10" height="2.00" fill="#8c8c8c"/>
<rect x="38.80" y="345.45" width="2.00" height="1.10" fill="#8c8c8c"/>
<rect x="229.50" y="345.45" width="2.00" height="1.10" fill="#8c8c8c"/>
<rect x="38.80" y="317.95" width="2.00" height="1.10" fill="#8c8c8c"/>
<rect x="229.50" y="317.95" width="2.00" height="1.10" fill="#8c8c8c"/>
<rect x="38.80" y="290.45" width="2.00" height="1.10" fill="#8c8c8c"/>
<rect x="229.50" y="290.45" width="2.00" height="1.10" fill="#8c8c8c"/>
<rect x="38.80" y="262.95" width="2.00" height="1.10" fill="#8c8c8c"/>
<rect x="229.50" y="262.95" width="2.00" height="1.10" fill="#8c8c8c"/>
<rect x="38.80" y="235.45" width="2.00" height="1.10" fill="#8c8c8c"/>
<rect x="229.50" y="235.45" width="2.00" height="1.10" fill="#8c8c8c"/>
<rect x="251.00" y="207.85" width="194.00" height="1.30" fill="#a4a4a4"/>
<rect x="251.00" y="372.85" width="194.00" height="1.30" fill="#a4a4a4"/>
<rect x="250.85" y="208.50" width="1.30" height="165.00" fill="#a0a0a0"/>
<rect x="443.85" y="208.50" width="1.30" height="165.00" fill="#a0a0a0"/>
<rect x="283.12" y="371.50" width="1.10" height="2.00" fill="#8c8c8c"/>
<rect x="283.12" y="208.50" width="1.10" height="2.00" fill="#8c8c8c"/>
<rect x="315.28" y="371.50" width="1.10" height="2.00" fill="#8c8c8c"/>
<rect x="315.28" y="208.50" width="1.10" height="2.00" fill="#8c8c8c"/>
<rect x="347.45" y="371.50" width="1.10" height="2.00" fill="#8c8c8c"/>
<rect x="347.45" y="208.50" width="1.10" height="2.00" fill="#8c8c8c"/>
<rect x="379.62" y="371.50" width="1.10" height="2.00" fill="#8c8c8c"/>
<rect x="379.62" y="208.50" width="1.10" height="2.00" fill="#8c8c8c"/>
<rect x="411.78" y="371.50" width="1.10" height="2.00" fill="#8c8c8c"/>
<rect x="411.78" y="208.50" width="1.10" height="2.00" fill="#8c8c8c"/>
<rect x="251.50" y="345.45" width="2.00" height="1.10" fill="#8c8c8c"/>
<rect x="442.50" y="345.45" width="2.00" height="1.10" fill="#8c8c8c"/>
<rect x="251.50" y="317.95" width="2.00" height="1.10" fill="#8c8c8c"/>
<rect x="442.50" y="317.95" width="2.00" height="1.10" fill="#8c8c8c"/>
<rect x="251.50" y="290.45" width="2.00" height="1.10" fill="#8c8c8c"/>
<rect x="442.50" y="290.45" width="2.00" height="1.10" fill="#8c8c8c"/>
<rect x="251.50" y="262.95" width="2.00" height="1.10" fill="#8c8c8c"/>
<rect x="442.50" y="262.95" width="2.00" height="1.10" fill="#8c8c8c"/>
<rect x="251.50" y="235.45" width="2.00" height="1.10" fill="#8c8c8c"/>
<rect x="442.50" y="235.45" width="2.00" height="1.10" fill="#8c8c8c"/>
<rect x="463.30" y="207.85" width="194.00" height="1.30" fill="#a4a4a4"/>
<rect x="463.30" y="372.85" width="194.00" height="1.30" fill="#a4a4a4"/>
<rect x="462.85" y="208.50" width="1.90" height="165.00" fill="#c6c6c6"/>
<rect x="655.85" y="208.50" width="1.90" height="165.00" fill="#c6c6c6"/>
<rect x="511.50" y="371.50" width="1.10" height="2.00" fill="#8c8c8c"/>
<rect x="511.50" y="208.50" width="1.10" height="2.00" fill="#8c8c8c"/>
<rect x="559.75" y="371.50" width="1.10" height="2.00" fill="#8c8c8c"/>
<rect x="559.75" y="208.50" width="1.10" height="2.00" fill="#8c8c8c"/>
<rect x="608.00" y="371.50" width="1.10" height="2.00" fill="#8c8c8c"/>
<rect x="608.00" y="208.50" width="1.10" height="2.00" fill="#8c8c8c"/>
<rect x="463.80" y="345.45" width="2.00" height="1.10" fill="#8c8c8c"/>
<rect x="654.80" y="345.45" width="2.00" height="1.10" fill="#8c8c8c"/>
<rect x="463.80" y="317.95" width="2.00" height="1.10" fill="#8c8c8c"/>
<rect x="654.80" y="317.95" width="2.00" height="1.10" fill="#8c8c8c"/>
<rect x="463.80" y="290.45" width="2.00" height="1.10" fill="#8c8c8c"/>
<rect x="654.80" y="290.45" width="2.00" height="1.10" fill="#8c8c8c"/>
<rect x="463.80" y="262.95" width="2.00" height="1.10" fill="#8c8c8c"/>
<rect x="654.80" y="262.95" width="2.00" height="1.10" fill="#8c8c8c"/>
<rect x="463.80" y="235.45" width="2.00" height="1.10" fill="#8c8c8c"/>
<rect x="654.80" y="235.45" width="2.00" height="1.10" fill="#8c8c8c"/>
<g font-family="'Liberation Sans', sans-serif"><text x="35.0" y="174.9" font-size="10.4" text-anchor="end" font-weight="normal" fill="#2e2e2e" >0.70</text>
<text x="35.0" y="377.9" font-size="10.4" text-anchor="end" font-weight="normal" fill="#2e2e2e" >0.70</text>
<text x="35.0" y="147.3" font-size="10.4" text-anchor="end" font-weight="normal" fill="#2e2e2e" >0.75</text>
<text x="35.0" y="350.4" font-size="10.4" text-anchor="end" font-weight="normal" fill="#2e2e2e" >0.75</text>
<text x="35.0" y="119.9" font-size="10.4" text-anchor="end" font-weight="normal" fill="#2e2e2e" >0.80</text>
<text x="35.0" y="322.9" font-size="10.4" text-anchor="end" font-weight="normal" fill="#2e2e2e" >0.80</text>
<text x="35.0" y="92.4" font-size="10.4" text-anchor="end" font-weight="normal" fill="#2e2e2e" >0.85</text>
<text x="35.0" y="295.4" font-size="10.4" text-anchor="end" font-weight="normal" fill="#2e2e2e" >0.85</text>
<text x="35.0" y="64.9" font-size="10.4" text-anchor="end" font-weight="normal" fill="#2e2e2e" >0.90</text>
<text x="35.0" y="267.9" font-size="10.4" text-anchor="end" font-weight="normal" fill="#2e2e2e" >0.90</text>
<text x="35.0" y="37.4" font-size="10.4" text-anchor="end" font-weight="normal" fill="#2e2e2e" >0.95</text>
<text x="35.0" y="240.4" font-size="10.4" text-anchor="end" font-weight="normal" fill="#2e2e2e" >0.95</text>
<text x="35.0" y="9.8" font-size="10.4" text-anchor="end" font-weight="normal" fill="#2e2e2e" >1.00</text>
<text x="35.0" y="212.8" font-size="10.4" text-anchor="end" font-weight="normal" fill="#2e2e2e" >1.00</text>
<text x="38.8" y="185.4" font-size="10.4" text-anchor="middle" font-weight="normal" fill="#2e2e2e" >2010</text>
<text x="86.3" y="185.4" font-size="10.4" text-anchor="middle" font-weight="normal" fill="#2e2e2e" >2011</text>
<text x="133.9" y="185.4" font-size="10.4" text-anchor="middle" font-weight="normal" fill="#2e2e2e" >2012</text>
<text x="181.4" y="185.4" font-size="10.4" text-anchor="middle" font-weight="normal" fill="#2e2e2e" >2013</text>
<text x="229.0" y="185.4" font-size="10.4" text-anchor="middle" font-weight="normal" fill="#2e2e2e" >2014</text>
<text x="276.5" y="185.4" font-size="10.4" text-anchor="middle" font-weight="normal" fill="#2e2e2e" >2015</text>
<text x="324.0" y="185.4" font-size="10.4" text-anchor="middle" font-weight="normal" fill="#2e2e2e" >2016</text>
<text x="371.6" y="185.4" font-size="10.4" text-anchor="middle" font-weight="normal" fill="#2e2e2e" >2017</text>
<text x="419.1" y="185.4" font-size="10.4" text-anchor="middle" font-weight="normal" fill="#2e2e2e" >2018</text>
<text x="466.6" y="185.4" font-size="10.4" text-anchor="middle" font-weight="normal" fill="#2e2e2e" >2019</text>
<text x="514.2" y="185.4" font-size="10.4" text-anchor="middle" font-weight="normal" fill="#2e2e2e" >2020</text>
<text x="561.7" y="185.4" font-size="10.4" text-anchor="middle" font-weight="normal" fill="#2e2e2e" >2021</text>
<text x="609.3" y="185.4" font-size="10.4" text-anchor="middle" font-weight="normal" fill="#2e2e2e" >2022</text>
<text x="656.8" y="185.4" font-size="10.4" text-anchor="middle" font-weight="normal" fill="#2e2e2e" >2023</text>
<text x="38.8" y="388.2" font-size="10.4" text-anchor="middle" font-weight="normal" fill="#2e2e2e" >0.75</text>
<text x="75.9" y="388.2" font-size="10.4" text-anchor="middle" font-weight="normal" fill="#2e2e2e" >1</text>
<text x="112.9" y="388.2" font-size="10.4" text-anchor="middle" font-weight="normal" fill="#2e2e2e" >1.25</text>
<text x="150.0" y="388.2" font-size="10.4" text-anchor="middle" font-weight="normal" fill="#2e2e2e" >1.5</text>
<text x="187.0" y="388.2" font-size="10.4" text-anchor="middle" font-weight="normal" fill="#2e2e2e" >1.75</text>
<text x="224.1" y="388.2" font-size="10.4" text-anchor="middle" font-weight="normal" fill="#2e2e2e" >2</text>
<text x="251.5" y="388.2" font-size="10.4" text-anchor="middle" font-weight="normal" fill="#2e2e2e" >0.2</text>
<text x="283.7" y="388.2" font-size="10.4" text-anchor="middle" font-weight="normal" fill="#2e2e2e" >0.4</text>
<text x="315.8" y="388.2" font-size="10.4" text-anchor="middle" font-weight="normal" fill="#2e2e2e" >0.6</text>
<text x="348.0" y="388.2" font-size="10.4" text-anchor="middle" font-weight="normal" fill="#2e2e2e" >0.8</text>
<text x="380.2" y="388.2" font-size="10.4" text-anchor="middle" font-weight="normal" fill="#2e2e2e" >1</text>
<text x="412.3" y="388.2" font-size="10.4" text-anchor="middle" font-weight="normal" fill="#2e2e2e" >1.2</text>
<text x="444.5" y="388.2" font-size="10.4" text-anchor="middle" font-weight="normal" fill="#2e2e2e" >1.4</text>
<text x="463.8" y="388.2" font-size="10.4" text-anchor="middle" font-weight="normal" fill="#2e2e2e" >0.6</text>
<text x="512.0" y="388.2" font-size="10.4" text-anchor="middle" font-weight="normal" fill="#2e2e2e" >0.7</text>
<text x="560.3" y="388.2" font-size="10.4" text-anchor="middle" font-weight="normal" fill="#2e2e2e" >0.8</text>
<text x="608.5" y="388.2" font-size="10.4" text-anchor="middle" font-weight="normal" fill="#2e2e2e" >0.9</text>
<text x="656.8" y="388.2" font-size="10.4" text-anchor="middle" font-weight="normal" fill="#2e2e2e" >1</text>
<text x="347.9" y="199.7" font-size="11.5" text-anchor="middle" font-weight="normal" fill="#2e2e2e" >Date</text>
<text x="135.3" y="402.9" font-size="11.6" text-anchor="middle" font-weight="normal" fill="#2e2e2e" >AE</text>
<text x="347.8" y="402.9" font-size="11.4" text-anchor="middle" font-weight="normal" fill="#2e2e2e" >AOD 500 nm Total</text>
<text x="560.3" y="402.9" font-size="11.5" text-anchor="middle" font-weight="normal" fill="#2e2e2e" >FMF</text>
<text x="0.0" y="0.0" font-size="10.9" text-anchor="middle" font-weight="normal" fill="#2e2e2e" transform="translate(10.4 192) rotate(-90)">SSA 440 nm</text>
<text x="42.7" y="19.0" font-size="14.2" text-anchor="start" font-weight="bold" fill="#111" >a)</text>
<text x="42.0" y="222.2" font-size="14.2" text-anchor="start" font-weight="bold" fill="#111" >b)</text>
<text x="255.0" y="222.2" font-size="14.2" text-anchor="start" font-weight="bold" fill="#111" >c)</text>
<text x="467.7" y="222.2" font-size="14.2" text-anchor="start" font-weight="bold" fill="#111" >d)</text></g>
<rect x="576.8" y="112.5" width="73.70000000000005" height="50.80000000000001" fill="#fff" stroke="#8a8a8a" stroke-width="1"/>
<path d="M591.5 139.9L596.0 147.3L587.0 147.3z" fill="none" stroke="#FBB725" stroke-width="1.85" stroke-linejoin="round"/>
<path d="M588.2 116.6L594.8 123.2M588.2 123.2L594.8 116.6" fill="none" stroke="#F43E1E" stroke-width="1.9"/>
<path d="M587.5 156.3a4.0 4.0 0 1 0 8.0 0a4.0 4.0 0 1 0 -8.0 0z" fill="none" stroke="#77B843" stroke-width="1.65"/>
<path d="M588.6 129.2h5.8v5.8h-5.8z" fill="none" stroke="#1446C6" stroke-width="1.9"/>

<g font-family="'Liberation Sans', sans-serif"><text x="605.9" y="123.3" font-size="9.3" fill="#000">Medellin</text><text x="605.9" y="135.5" font-size="9.3" fill="#000">Quito</text><text x="605.9" y="147.4" font-size="9.3" fill="#000">Huancayo</text><text x="605.9" y="159.7" font-size="9.3" fill="#000">La Paz</text></g>
</svg>
</body></html>
